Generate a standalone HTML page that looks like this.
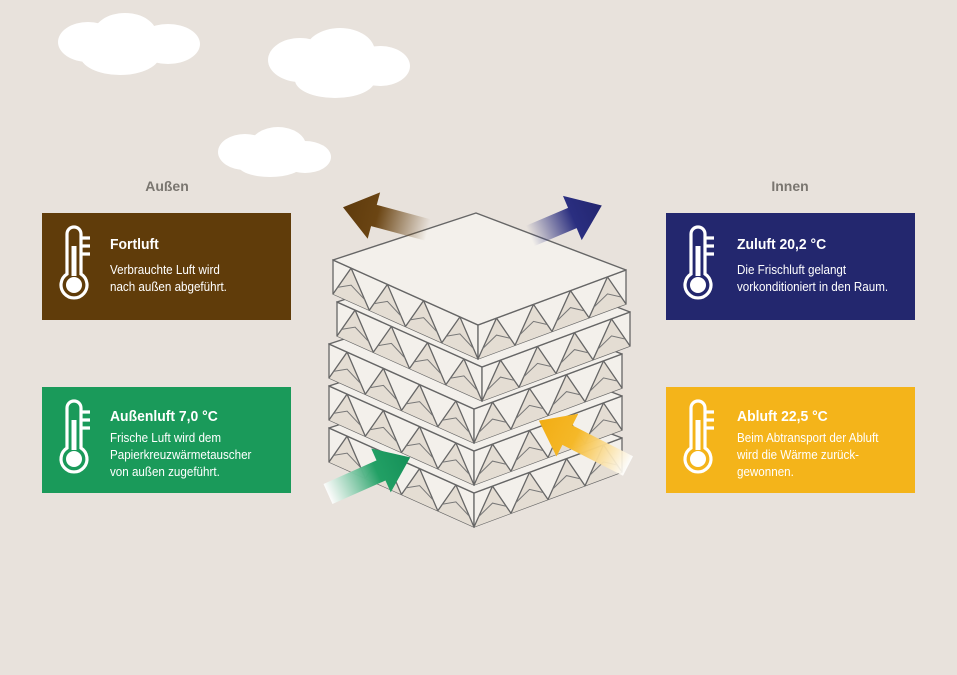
<!DOCTYPE html>
<html><head><meta charset="utf-8"><style>
body{margin:0;width:957px;height:675px;background:#e8e2dc;overflow:hidden;font-family:"Liberation Sans Narrow","Liberation Sans",sans-serif}
svg{position:absolute;left:0;top:0}
</style></head><body>
<svg id="s" width="957" height="675" viewBox="0 0 957 675" xmlns="http://www.w3.org/2000/svg">
<defs>
<linearGradient id="gb" x1="0" x2="1"><stop offset="0" stop-color="#6b4513" stop-opacity="0"/><stop offset="0.6" stop-color="#6b4513"/><stop offset="1" stop-color="#5e3a0c"/></linearGradient>
<linearGradient id="gn" x1="0" x2="1"><stop offset="0" stop-color="#2a2e80" stop-opacity="0"/><stop offset="0.6" stop-color="#2a2e80"/><stop offset="1" stop-color="#232670"/></linearGradient>
<linearGradient id="gg" x1="0" x2="1"><stop offset="0" stop-color="#fff" stop-opacity="0.9"/><stop offset="0.6" stop-color="#22a065"/><stop offset="1" stop-color="#159058"/></linearGradient>
<linearGradient id="gy" x1="0" x2="1"><stop offset="0" stop-color="#fff" stop-opacity="0.9"/><stop offset="0.6" stop-color="#f5b828"/><stop offset="1" stop-color="#f2ad14"/></linearGradient>
<g id="th" fill="none" stroke="#fff" stroke-width="3.2">
<path d="M-6,18 V-22 A7,7 0 0 1 8,-22 V18 A13,13 0 1 1 -6,18 Z"/>
<path d="M8,-18 H17 M8,-10 H17 M8,-2 H17"/>
<rect x="-1.5" y="-10" width="5" height="30" fill="#fff" stroke="none"/>
<circle cx="1" cy="29" r="8" fill="#fff" stroke="none"/>
</g>
</defs>
<g fill="#fff">
<ellipse cx="88" cy="42" rx="30" ry="20"/><ellipse cx="125" cy="35" rx="32" ry="22"/><ellipse cx="168" cy="44" rx="32" ry="20"/><ellipse cx="120" cy="55" rx="40" ry="20"/>
<ellipse cx="300" cy="60" rx="32" ry="22"/><ellipse cx="340" cy="52" rx="35" ry="24"/><ellipse cx="380" cy="66" rx="30" ry="20"/><ellipse cx="335" cy="80" rx="40" ry="18"/>
<ellipse cx="245" cy="152" rx="27" ry="18"/><ellipse cx="278" cy="146" rx="28" ry="19"/><ellipse cx="305" cy="157" rx="26" ry="16"/><ellipse cx="270" cy="165" rx="32" ry="12"/>
</g>
<g id="stack"></g>
<g id="arrows"></g>
<g font-size="14" fill="#7a7670" text-anchor="middle" font-weight="bold"><text x="167" y="191">Außen</text><text x="790" y="191">Innen</text></g>
<rect x="42" y="213" width="249" height="107" fill="#603c0a"/>
<rect x="42" y="387" width="249" height="106" fill="#1a9a5a"/>
<rect x="666" y="213" width="249" height="107" fill="#23276e"/>
<rect x="666" y="387" width="249" height="106" fill="#f4b41a"/>
<use href="#th" x="73" y="256"/><use href="#th" x="73" y="430"/><use href="#th" x="697" y="256"/><use href="#th" x="697" y="430"/>
<g fill="#fff" font-size="12.5" transform="translate(110,0) scale(0.93,1) translate(-110,0)">
<text x="110" y="249" font-size="15" font-weight="bold">Fortluft</text>
<text x="110" y="274">Verbrauchte Luft wird</text><text x="110" y="291">nach außen abgeführt.</text>
<text x="110" y="421" font-size="15" font-weight="bold">Außenluft 7,0 °C</text>
<text x="110" y="442">Frische Luft wird dem</text><text x="110" y="459">Papierkreuzwärmetauscher</text><text x="110" y="476">von außen zugeführt.</text>
</g>
<g fill="#fff" font-size="12.5" transform="translate(737,0) scale(0.93,1) translate(-737,0)">
<text x="737" y="249" font-size="15" font-weight="bold">Zuluft 20,2 °C</text>
<text x="737" y="274">Die Frischluft gelangt</text><text x="737" y="291">vorkonditioniert in den Raum.</text>
<text x="737" y="421" font-size="15" font-weight="bold">Abluft 22,5 °C</text>
<text x="737" y="442">Beim Abtransport der Abluft</text><text x="737" y="459">wird die Wärme zurück-</text><text x="737" y="476">gewonnen.</text>
</g>
</svg>
<script>
var NS="http://www.w3.org/2000/svg",st=document.getElementById("stack"),ar=document.getElementById("arrows");
function el(t,a,p){var e=document.createElementNS(NS,t);for(var k in a)e.setAttribute(k,a[k]);p.appendChild(e);return e}
var L=[333,260],T=[476,213],R=[626,270],B=[478,325],h=34;
function P(p){return p.map(function(q){return q[0].toFixed(1)+","+q[1].toFixed(1)}).join(" ")}
function face(a,b,dx,dy,n){
 var A=[a[0]+dx,a[1]+dy],Bb=[b[0]+dx,b[1]+dy];
 el("polygon",{points:P([A,Bb,[Bb[0],Bb[1]+h],[A[0],A[1]+h]]),fill:"#f3f0eb",stroke:"#666","stroke-width":1.3},st);
 function at(f,o){return [A[0]+(Bb[0]-A[0])*f,A[1]+(Bb[1]-A[1])*f+o]}
 for(var i=0;i<n;i++){
  var f0=i/n,f1=(i+1)/n,fm=(i+.5)/n;
  el("polygon",{points:P([at(f0,h),at(fm,0),at(f1,h)]),fill:"#e4ddd3",stroke:"none"},st);
  el("polyline",{points:P([at(f0,h),at(fm,0),at(f1,h)]),fill:"none",stroke:"#666","stroke-width":1.3},st);
  el("polyline",{points:P([at(f0+.03,h*.75),at(fm,h*.5),at(f1-.03,h*.75)]),fill:"none",stroke:"#777","stroke-width":1},st);
 }
}
var offs=[0,4,-4,-4,-4];
for(var k=4;k>=0;k--){
 var dy=42*k,dx=offs[k];
 face(L,B,dx,dy,4);face(B,R,dx,dy,4);
 el("polygon",{points:P([[L[0]+dx,L[1]+dy],[T[0]+dx,T[1]+dy],[R[0]+dx,R[1]+dy],[B[0]+dx,B[1]+dy]]),fill:"#f3f0eb",stroke:"#666","stroke-width":1.4,"stroke-linejoin":"round"},st);
}
function arrow(x,y,ang,len,g){
 var gg=el("g",{transform:"translate("+x+","+y+") rotate("+ang+")"},ar);
 var w=11,hw=24,hl=32;
 el("polygon",{points:P([[0,-w],[len-hl,-w],[len-hl,-hw],[len,0],[len-hl,hw],[len-hl,w],[0,w]]),fill:"url(#"+g+")"},gg);
}
arrow(428,230,-165,88,"gb");
arrow(530,236,-23,78,"gn");
arrow(328,494,-24,90,"gg");
arrow(628,466,-153,100,"gy");
</script>
</body></html>
